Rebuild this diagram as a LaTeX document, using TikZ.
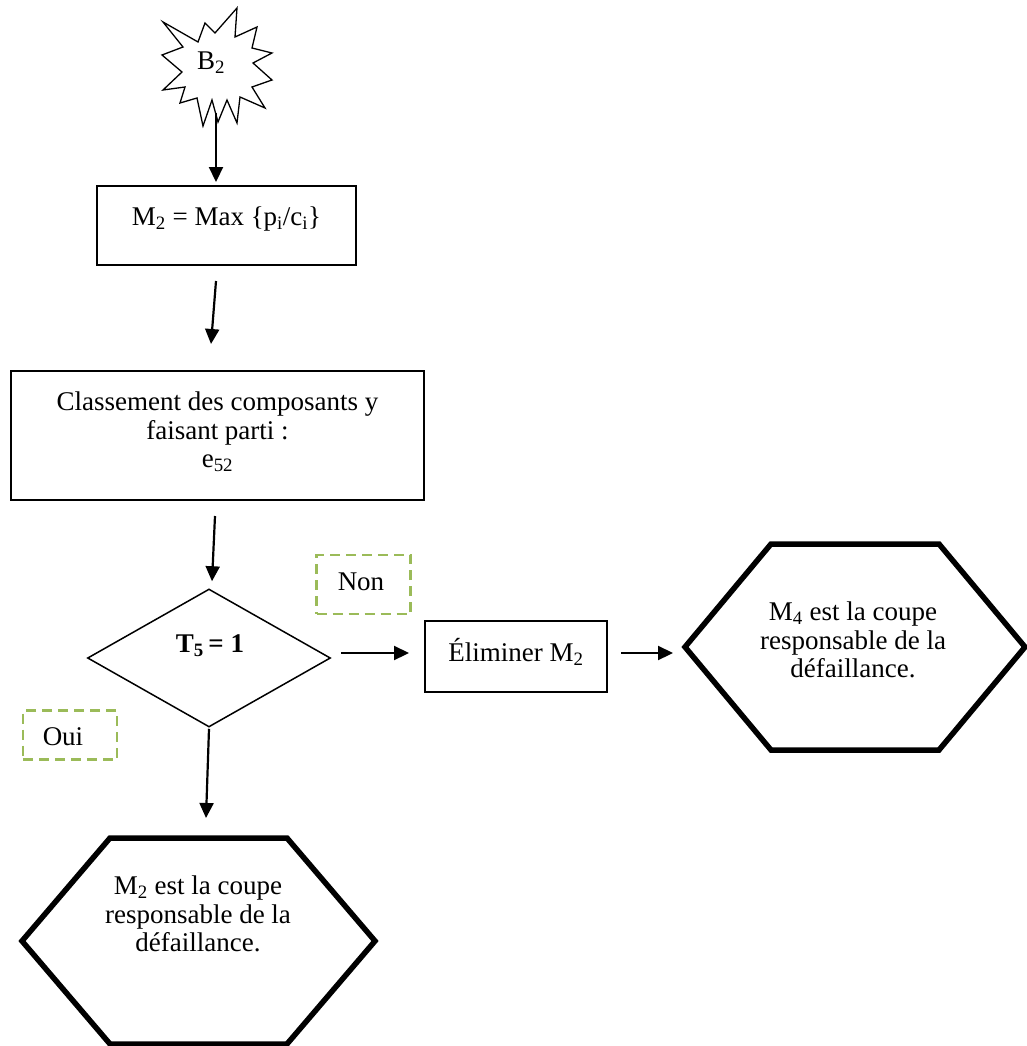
\documentclass[tikz,border=0pt]{standalone}
\usepackage{fontspec}
\setmainfont{Liberation Serif}
\usetikzlibrary{arrows.meta,shapes.geometric}
\definecolor{dashgreen}{RGB}{155,187,89}
\tikzset{
  txt/.style={inner sep=0pt, align=center, font=\fontsize{27}{28.5}\selectfont},
  stepbox/.style={draw, line width=2pt, inner sep=0pt},
  decision/.style={draw, diamond, line width=1.5pt, inner sep=0pt},
  endhex/.style={draw, line width=5.5pt, line join=miter},
  tag/.style={draw=dashgreen, line width=2.5pt, dash pattern=on 10pt off 6pt, inner sep=0pt},
  arr/.style={line width=2.2pt, -{Triangle[length=15pt,width=14pt]}},
}
\begin{document}
\begin{tikzpicture}[x=1pt,y=-1pt]
\useasboundingbox (0,0) rectangle (1026,1046);

% start burst
\draw[line width=1.3pt, line join=miter]
  (163,22) -- (198,42) -- (205,23) -- (215,33) -- (237,8) -- (235,37)
  -- (257,27) -- (252,48) -- (272,53) -- (253,63) -- (272,80) -- (252,87)
  -- (265,108) -- (240,97) -- (237,123) -- (227,100) -- (218,122)
  -- (212,100) -- (203,126) -- (197,98) -- (180,103) -- (185,87)
  -- (163,90) -- (182,72) -- (162,55) -- (183,47) -- cycle;
\node[txt] (b2) at (211,63) {B\textsubscript{2}};

% process boxes
\node[stepbox, minimum width=259pt, minimum height=79pt] (m2box) at (226.5,225.5) {};
\node[txt] (m2txt) at (226.5,219) {M\textsubscript{2} = Max \{p\textsubscript{i}/c\textsubscript{i}\}};

\node[stepbox, minimum width=413pt, minimum height=129pt] (classbox) at (217.5,435.5) {};
\node[txt] (classtxt) at (217.5,432) {Classement des composants y\\faisant parti :\\e\textsubscript{52}};

% decision
\node[decision, minimum width=243pt, minimum height=138pt] (test) at (209,658) {};
\node[txt] (testtxt) at (210,646) {\textbf{T\textsubscript{5}\,= 1}};

\node[stepbox, minimum width=182pt, minimum height=71pt] (elim) at (516,656.5) {};
\node[txt] (elimtxt) at (516,652) {Éliminer M\textsubscript{2}};

% branch tags
\node[tag, minimum width=94pt, minimum height=59pt] (non) at (363.5,584.5) {};
\node[txt] (nontxt) at (361,582) {Non};
\node[tag, minimum width=94pt, minimum height=49pt] (oui) at (70,735) {};
\node[txt] (ouitxt) at (63,737) {Oui};

% terminal hexagons
\coordinate (h1) at (855,647);
\draw[endhex] (685,647) -- (771,544) -- (939,544) -- (1025,647)
  -- (939,750) -- (771,750) -- cycle;
\coordinate (h1w) at (685,647);
\node[txt] (h1txt) at (853,640) {M\textsubscript{4} est la coupe\\responsable de la\\défaillance.};

\coordinate (h2) at (198.5,941);
\draw[endhex] (22,941) -- (110,838) -- (287,838) -- (375,941)
  -- (287,1044) -- (110,1044) -- cycle;
\coordinate (h2n) at (198.5,838);
\node[txt] (h2txt) at (198,914) {M\textsubscript{2} est la coupe\\responsable de la\\défaillance.};

% connectors
\draw[arr] ([xshift=5pt,yshift=-50pt]b2.center) -- ([xshift=-10.5pt,yshift=3pt]m2box.north);
\draw[arr] ([xshift=-10.5pt,yshift=-15pt]m2box.south) -- ([xshift=-6.5pt,yshift=26pt]classbox.north);
\draw[arr] ([xshift=-2.5pt,yshift=-15pt]classbox.south) -- ([xshift=3pt,yshift=7pt]test.north);
\draw[arr] ([yshift=-1pt]test.south) -- ([xshift=7.5pt,yshift=20pt]h2n);
\draw[arr] ([xshift=10pt,yshift=5pt]test.east) -- ([xshift=-15pt,yshift=3.5pt]elim.west);
\draw[arr] ([xshift=13pt,yshift=3.5pt]elim.east) -- ([xshift=-12pt,yshift=-6pt]h1w);
\end{tikzpicture}
\end{document}
